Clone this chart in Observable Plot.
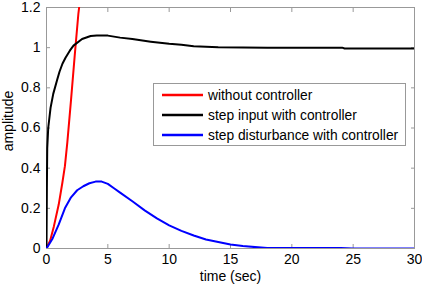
<!DOCTYPE html>
<html>
<head>
<meta charset="utf-8">
<script src="https://cdn.jsdelivr.net/npm/d3@7"></script>
<script src="https://cdn.jsdelivr.net/npm/@observablehq/plot@0.6"></script>
<style>
  html, body { margin: 0; padding: 0; background: #fff; }
  #wrap { position: relative; width: 422px; height: 288px; font-family: "Liberation Sans", Arial, sans-serif; }
  #legend { position: absolute; left: 153px; top: 83px; width: 253px; height: 63px; box-sizing: border-box;
    border: 1px solid #999; background: #fff; font-size: 13.8px; color: #000; padding-top: 1px; }
  #legend .row { display: flex; align-items: center; height: 20px; white-space: nowrap; }
  #legend svg { margin-left: 8px; margin-right: 5px; flex: none; }
</style>
</head>
<body>
<div id="wrap"></div>
<script>
// ---- data ----
const seriesNames = ["without controller", "step input with controller", "step disturbance with controller"];
const seriesColors = ["#ff0000", "#000000", "#0000ff"];

const tRed = [0, 0.3, 0.6, 1.0, 1.3, 1.5, 1.7, 2.0, 2.3, 2.6, 2.66];
const yRed = [0, 0.04, 0.11, 0.22, 0.33, 0.41, 0.53, 0.74, 0.96, 1.17, 1.2];

const tBlack = [0, 0.03, 0.06, 0.14, 0.33, 0.55, 0.87, 1.06, 1.3, 1.55, 1.9, 2.2, 2.9, 3.6, 4.1, 5.0, 6.0, 7.0, 8.5, 10.0, 11.0, 12.0, 14.0, 18.0, 24.1, 24.3, 30.0];
const yBlack = [0, 0.3, 0.5, 0.6, 0.7, 0.77, 0.84, 0.88, 0.92, 0.95, 0.985, 1.01, 1.043, 1.058, 1.061, 1.06, 1.05, 1.043, 1.03, 1.019, 1.014, 1.007, 1.002, 1.0, 1.0, 0.996, 0.996];

const tBlue = [0, 0.5, 1.0, 1.5, 2.0, 2.5, 3.0, 3.5, 4.0, 4.5, 5.0, 5.5, 6.0, 7.0, 8.0, 9.0, 10.0, 11.0, 12.0, 13.0, 14.0, 15.0, 16.0, 17.0, 18.0, 20.0, 24.0, 25.0, 30.0];
const yBlue = [0, 0.05, 0.12, 0.2, 0.255, 0.29, 0.31, 0.325, 0.333, 0.333, 0.322, 0.3, 0.278, 0.235, 0.19, 0.15, 0.115, 0.088, 0.065, 0.045, 0.032, 0.02, 0.012, 0.007, 0.003, 0.003, 0.002, 0, 0];

const xTicks = [0, 5, 10, 15, 20, 25, 30];
const xTickLabels = ["0", "5", "10", "15", "20", "25", "30"];
const yTicks = [0, 0.2, 0.4, 0.6, 0.8, 1.0, 1.2];
const yTickLabels = ["0", "0.2", "0.4", "0.6", "0.8", "1", "1.2"];
const xLabel = "time (sec)";
const yLabel = "amplitude";

// ---- build ----
const toRows = (ts, ys) => ts.map((t, i) => ({t, v: ys[i]}));
const series = [toRows(tRed, yRed), toRows(tBlack, yBlack), toRows(tBlue, yBlue)];
const fmt = (ticks, labels) => d => labels[ticks.indexOf(d)] ?? "";
const axisGray = "#999";

const chart = Plot.plot({
  width: 422,
  height: 288,
  marginLeft: 46,
  marginRight: 8,
  marginTop: 7,
  marginBottom: 40,
  style: {fontFamily: "'Liberation Sans', Arial, sans-serif", fontSize: "14px", color: "#000", background: "#fff", overflow: "visible"},
  x: {domain: [0, 30]},
  y: {domain: [0, 1.2]},
  marks: [
    Plot.frame({stroke: axisGray}),
    Plot.axisX({anchor: "bottom", ticks: xTicks, tickFormat: fmt(xTicks, xTickLabels), tickSize: -4, tickPadding: 10, stroke: axisGray, fill: "#000", fontSize: 14, label: xLabel, labelAnchor: "center", labelOffset: 32, labelArrow: false}),
    Plot.axisX({anchor: "top", ticks: xTicks, tickFormat: () => "", tickSize: -4, stroke: axisGray, label: null}),
    Plot.axisY({anchor: "left", ticks: yTicks, tickFormat: fmt(yTicks, yTickLabels), tickSize: -4, tickPadding: 10, stroke: axisGray, fill: "#000", fontSize: 14, label: null}),
    Plot.axisY({anchor: "right", ticks: yTicks, tickFormat: () => "", tickSize: -4, stroke: axisGray, label: null}),
    Plot.text([yLabel], {text: d => d, frameAnchor: "left", textAnchor: "middle", rotate: -90, dx: -38, dy: -7, fontSize: 14, fill: "#000"}),
    ...series.map((rows, i) => Plot.line(rows, {x: "t", y: "v", stroke: seriesColors[i], strokeWidth: 2, clip: true}))
  ]
});
const wrap = document.getElementById("wrap");
wrap.appendChild(chart);

// legend box inside the plot area
const legend = document.createElement("div");
legend.id = "legend";
seriesNames.forEach((name, i) => {
  const row = document.createElement("div");
  row.className = "row";
  row.innerHTML = `<svg width="41" height="4"><line x1="0" x2="41" y1="2" y2="2" stroke="${seriesColors[i]}" stroke-width="2.5"/></svg><span>${name}</span>`;
  legend.appendChild(row);
});
wrap.appendChild(legend);
</script>
</body>
</html>
